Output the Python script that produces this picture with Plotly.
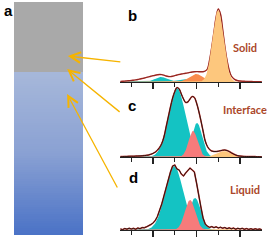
import numpy as np
import plotly.graph_objects as go

# ---------------- data ----------------
# common x grid of the measured spectra (arbitrary shift units)
x_obs = list(range(25, 91))

# measured spectra (intensity, a.u.)
obs_solid = [0.5, 0.7, 0.9, 1.1, 1.3, 1.5, 1.8, 2.1, 2.5, 3.0,
             3.5, 4.0, 4.6, 5.2, 5.8, 6.3, 6.8, 7.2, 7.5, 7.4,
             6.8, 6.0, 5.5, 5.4, 5.8, 6.4, 7.0, 7.5, 8.0, 8.4,
             8.7, 9.1, 9.6, 10.0, 10.3, 10.4, 10.3, 10.2, 10.3, 11.0,
             13.0, 22.0, 35.0, 50.0, 65.0, 73.0, 68.0, 53.0, 36.0, 22.0,
             12.0, 6.0, 3.5, 2.0, 1.3, 1.0, 0.8, 0.7, 0.6, 0.5,
             0.5, 0.4, 0.4, 0.4, 0.3, 0.3]
obs_interface = [0.5, 0.5, 0.6, 0.6, 0.7, 0.8, 0.8, 0.9, 1.0, 1.1,
                 1.2, 1.4, 1.7, 2.1, 2.7, 3.6, 4.8, 6.8, 9.5, 13.5,
                 20.0, 30.0, 40.0, 50.0, 59.0, 65.5, 69.5, 68.0, 63.0, 58.0,
                 54.5, 55.0, 58.0, 60.5, 59.5, 54.0, 46.0, 36.5, 26.0, 16.0,
                 10.5, 7.5, 6.0, 5.5, 5.5, 5.8, 6.3, 6.8, 7.0, 6.5,
                 5.5, 4.2, 3.0, 2.0, 1.3, 0.9, 0.7, 0.6, 0.5, 0.5,
                 0.4, 0.4, 0.4, 0.3, 0.3, 0.3]
obs_liquid = [1.0, 0.4, 1.5, 0.9, 1.8, 1.0, 1.6, 0.8, 2.0, 1.4,
              2.4, 2.2, 3.2, 4.0, 5.5, 7.0, 9.5, 13.5, 19.0, 26.0,
              34.0, 43.0, 51.0, 58.0, 64.0, 65.0, 61.0, 60.0, 56.0, 54.0,
              57.0, 59.0, 62.0, 60.0, 58.0, 47.0, 33.0, 23.0, 12.0, 6.0,
              3.8, 2.6, 3.4, 2.4, 3.2, 2.0, 2.8, 1.8, 2.5, 1.4,
              2.1, 1.2, 1.9, 0.8, 1.7, 1.0, 1.6, 0.7, 1.4, 0.6,
              1.3, 0.5, 1.2, 0.6, 1.0, 0.4]

# fitted peak components: (name, centre, width sigma, height, colour)
peaks_solid = [("background", 43.2, 12.0, 1.5, "#a9a9a9"),
               ("A1", 43.7, 2.8, 5.0, "#14c3c3"),
               ("A2", 53.8, 3.2, 3.0, "#14c3c3"),
               ("B", 59.8, 3.2, 8.0, "#f98b4d")]
peak_solid_main = ("C", 69.9, 2.53, 72.0, "#fdc77d")
peaks_interface = [("A1", 51.0, 3.9, 69.0, "#14c3c3"),
                   ("A2", 60.2, 2.4, 34.0, "#14c3c3"),
                   ("C", 72.6, 3.2, 6.0, "#fdc77d"),
                   ("R", 58.4, 2.07, 26.0, "#f67b7b")]
peaks_liquid = [("A1", 49.7, 4.1, 64.0, "#14c3c3"),
                ("A2", 59.3, 2.7, 32.0, "#14c3c3"),
                ("C", 73.0, 3.7, 1.0, "#fdc77d"),
                ("R", 57.0, 2.4, 30.0, "#f67b7b")]

panel_labels = ["Solid", "Interface", "Liquid"]
major_ticks = [40, 60, 80]
minor_ticks = [30, 50, 70]

# vial (panel a): height in %, liquid phase below the solid layer
vial_liquid_top = 70.4
vial_colors = ["#4a72c6", "#8aa1d3", "#a7b8da", "#a9a9a9"]

# ---------------- figure ----------------
W, H = 269, 240
fig = go.Figure()

xfine = np.linspace(24.8, 90.1, 600)


def gauss(c, s, h):
    return h * np.exp(-0.5 * ((xfine - c) / s) ** 2)


def add_fill(p, xa, ya):
    name, c, s, h, col = p
    fig.add_trace(go.Scatter(x=xfine, y=gauss(c, s, h), mode="lines",
                             line=dict(width=0), fill="tozeroy",
                             fillcolor=col, xaxis=xa, yaxis=ya,
                             showlegend=False, hoverinfo="skip"))


def add_obs(y, xa, ya, red_w=1.6, blk_w=0.9, shape="spline"):
    fig.add_trace(go.Scatter(x=x_obs, y=y, mode="lines",
                             line=dict(color="#c8322c", width=red_w, shape=shape),
                             xaxis=xa, yaxis=ya, showlegend=False))
    fig.add_trace(go.Scatter(x=x_obs, y=y, mode="lines",
                             line=dict(color="#2b1612", width=blk_w, shape=shape),
                             xaxis=xa, yaxis=ya, showlegend=False))


# panel b (solid)
for p in peaks_solid:
    add_fill(p, "x", "y")
add_obs(obs_solid, "x", "y", red_w=1.4, blk_w=0.4)
add_fill(peak_solid_main, "x", "y")

# panel c (interface)
for p in peaks_interface:
    add_fill(p, "x2", "y2")
add_obs(obs_interface, "x2", "y2", red_w=1.5, blk_w=1.0)

# panel d (liquid)
for p in peaks_liquid:
    add_fill(p, "x3", "y3")
add_obs(obs_liquid, "x3", "y3", red_w=1.5, blk_w=1.0, shape="linear")

# panel a: vial
vial_y = np.arange(100) + 0.5
f = vial_liquid_top / 100
fig.add_trace(go.Heatmap(
    x=[0.25, 0.75], y=vial_y, z=[[v, v] for v in vial_y],
    zmin=0, zmax=100, showscale=False, hoverinfo="skip",
    colorscale=[[0, vial_colors[0]], [f * 0.5, vial_colors[1]],
                [f, vial_colors[2]], [f + 0.001, vial_colors[3]],
                [1, vial_colors[3]]],
    xaxis="x4", yaxis="y4"))


def px2fx(px):
    return px / W


def px2fy(py):
    return 1 - py / H


xdom = [px2fx(120), px2fx(262)]
spec_axis = dict(range=[24.8, 90.1], domain=xdom, showgrid=False,
                 zeroline=False, showline=True, linecolor="#222",
                 linewidth=1.2, ticks="outside", tickvals=major_ticks,
                 ticklen=6, tickwidth=1.2, tickcolor="#222",
                 showticklabels=False,
                 minor=dict(tickvals=minor_ticks, ticks="outside",
                            ticklen=3.5, tickwidth=1.2, tickcolor="#222"))
hidden_y = dict(visible=False, showgrid=False, zeroline=False)

fig.update_layout(
    width=W, height=H, margin=dict(l=0, r=0, t=0, b=0),
    paper_bgcolor="white", plot_bgcolor="rgba(0,0,0,0)",
    xaxis=dict(spec_axis, anchor="y"),
    xaxis2=dict(spec_axis, anchor="y2"),
    xaxis3=dict(spec_axis, anchor="y3"),
    yaxis=dict(hidden_y, domain=[px2fy(82), px2fy(6)], range=[0, 76], anchor="x"),
    yaxis2=dict(hidden_y, domain=[px2fy(157), px2fy(84)], range=[0, 73], anchor="x2"),
    yaxis3=dict(hidden_y, domain=[px2fy(230), px2fy(158)], range=[0, 72], anchor="x3"),
    xaxis4=dict(visible=False, range=[0, 1], domain=[px2fx(14), px2fx(83)], anchor="y4"),
    yaxis4=dict(visible=False, range=[0, 100], domain=[px2fy(235), px2fy(2)], anchor="x4"),
)

# arrows from spectra to the vial layers
arrow_targets = [(0.78, 76.8, 54, 6), (0.77, 71.2, 54, 44), (0.77, 60.5, 51, 95)]
for hx, hy, axp, ayp in arrow_targets:
    fig.add_annotation(x=hx, y=hy, xref="x4", yref="y4", ax=axp, ay=ayp,
                       text="", showarrow=True, arrowhead=5, arrowsize=1.6,
                       arrowwidth=1.3, arrowcolor="#f6b400")

letter_font = dict(family="Liberation Sans", size=15, color="black", weight="bold")
for txt, px, py in [("a", 8, 11), ("b", 132, 15), ("c", 132, 105), ("d", 133, 177)]:
    fig.add_annotation(x=px2fx(px), y=px2fy(py), xref="paper", yref="paper",
                       text=txt, showarrow=False, xanchor="center", yanchor="middle",
                       font=letter_font)

label_font = dict(family="Lato", size=11, color="#ab472a", weight="bold")
for txt, py in zip(panel_labels, [48, 110, 189]):
    fig.add_annotation(x=px2fx(245), y=px2fy(py), xref="paper", yref="paper",
                       text=txt, showarrow=False, xanchor="center", yanchor="middle",
                       font=label_font)

fig.write_html("out.html",
               config={"displayModeBar": False, "staticPlot": True},
               post_script="document.body.style.margin='0';"
                           "document.body.style.overflow='hidden';")
